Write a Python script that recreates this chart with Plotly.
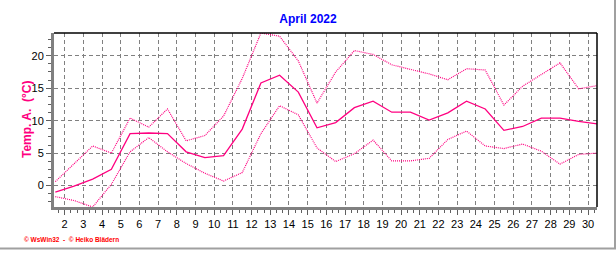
import plotly.graph_objects as go

# ---- data (April 2022, daily temperatures, degC) ----
days = list(range(1, 31))
t_mean = [-1.0, -0.1, 1.0, 2.5, 8.0, 8.1, 8.0, 5.2, 4.3, 4.6,
          8.7, 15.8, 17.0, 14.4, 8.9, 9.7, 12.0, 13.0, 11.3, 11.3,
          10.1, 11.2, 13.0, 11.8, 8.5, 9.1, 10.4, 10.4, 9.9, 9.5]
t_max = [0.6, 3.3, 6.1, 5.0, 10.4, 9.0, 11.8, 6.9, 7.7, 10.7,
         16.5, 23.5, 23.0, 19.2, 12.7, 17.5, 20.8, 20.2, 18.6, 17.9,
         17.2, 16.3, 18.0, 17.8, 12.4, 15.3, 17.1, 18.9, 14.9, 15.4]
t_min = [-1.7, -2.3, -3.3, 0.2, 5.2, 7.4, 5.2, 3.4, 1.9, 0.7,
         2.0, 8.0, 12.3, 10.9, 5.8, 3.7, 4.9, 7.0, 3.8, 3.8,
         4.2, 7.1, 8.4, 6.1, 5.7, 6.4, 5.3, 3.3, 4.8, 5.0]
x_ticks = list(range(2, 31))
y_ticks = [0, 5, 10, 15, 20]

title_text = "April 2022"
y_title = "Temp. A.  (°C)"
footer = "© WsWin32  -  © Heiko Blädern"

# daily values are drawn at the middle of each day
xpos = [d + 0.5 for d in days]

PINK = "#FF0080"
FONT = "Arial, Liberation Sans, sans-serif"

fig = go.Figure()
fig.add_trace(go.Scatter(x=xpos, y=t_max, mode="lines",
                         line=dict(color=PINK, width=1.2, dash="1px,1px"),
                         hoverinfo="skip", showlegend=False))
fig.add_trace(go.Scatter(x=xpos, y=t_min, mode="lines",
                         line=dict(color=PINK, width=1.2, dash="1px,1px"),
                         hoverinfo="skip", showlegend=False))
fig.add_trace(go.Scatter(x=xpos, y=t_mean, mode="lines",
                         line=dict(color=PINK, width=1.3),
                         hoverinfo="skip", showlegend=False))

ymin = min(t_min)
ymax = max(t_max)

fig.update_layout(
    width=616, height=253,
    margin=dict(l=54, r=19, t=33, b=46, pad=0),
    paper_bgcolor="white", plot_bgcolor="white",
    font=dict(family=FONT, size=11, color="black"),
    title=dict(text=title_text, x=0.5, xanchor="center", y=1 - 19 / 253,
               yanchor="middle", yref="container",
               font=dict(family=FONT, size=12, color="#0000FF", weight="bold")),
    xaxis=dict(range=[1.43, 30.48], tickmode="array", tickvals=x_ticks,
               ticktext=[str(v) for v in x_ticks],
               showgrid=True, gridcolor="#808080", gridwidth=1, griddash="4px,3px",
               zeroline=False,
               showline=True, linecolor="#808080", linewidth=3,
               ticks="outside", ticklen=5, tickwidth=1, tickcolor="#606060",
               minor=dict(ticks="outside", ticklen=3, tickwidth=1, tickcolor="#606060",
                          tick0=0, dtick=1 / 3, showgrid=False),
               tickfont=dict(size=11, color="black")),
    yaxis=dict(range=[ymin, ymax], tickmode="array", tickvals=y_ticks,
               showgrid=True, gridcolor="#808080", gridwidth=1, griddash="4px,3px",
               zeroline=False,
               showline=True, linecolor="#808080", linewidth=3,
               ticks="outside", ticklen=5, tickwidth=1, tickcolor="#606060",
               minor=dict(ticks="outside", ticklen=3, tickwidth=1, tickcolor="#606060",
                          tick0=0, dtick=1.25, showgrid=False),
               tickfont=dict(size=11, color="black")),
)

# top and right plot borders (black)
fig.add_shape(type="line", xref="paper", yref="paper", x0=0, x1=1, y0=1, y1=1,
              line=dict(color="black", width=1.5))
fig.add_shape(type="line", xref="paper", yref="paper", x0=1, x1=1, y0=0, y1=1,
              line=dict(color="black", width=1.5))

# outer grey frame (right and bottom)
px_w, px_h = 543.0, 174.0
fig.add_shape(type="line", xref="paper", yref="paper",
              x0=(615 - 54) / px_w, x1=(615 - 54) / px_w,
              y0=(207 - 249) / px_h, y1=(207 - 0) / px_h,
              line=dict(color="#A0A0A0", width=2))
fig.add_shape(type="line", xref="paper", yref="paper",
              x0=(0 - 54) / px_w, x1=(616 - 54) / px_w,
              y0=(207 - 248.5) / px_h, y1=(207 - 248.5) / px_h,
              line=dict(color="#A0A0A0", width=2))

# y-axis title
fig.add_annotation(text=y_title, xref="paper", yref="paper",
                   x=(27 - 54) / px_w, y=0.5, textangle=-90, showarrow=False,
                   xanchor="center", yanchor="middle",
                   font=dict(family=FONT, size=12, color=PINK, weight="bold"))
# footer
fig.add_annotation(text=footer, xref="paper", yref="paper",
                   x=(22 - 54) / px_w, y=(207 - 239) / px_h, showarrow=False,
                   xanchor="left", yanchor="middle",
                   font=dict(family=FONT, size=6.5, color="#FF0000", weight="bold"))

fig.write_html("out.html")
